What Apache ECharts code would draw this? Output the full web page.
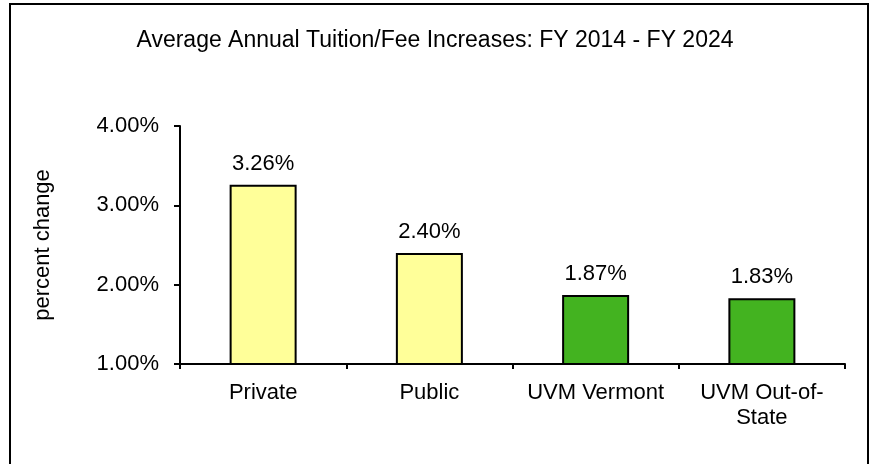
<!DOCTYPE html>
<html>
<head>
<meta charset="utf-8">
<script src="https://cdn.jsdelivr.net/npm/echarts@6/dist/echarts.min.js"></script>
<style>
  html, body { margin: 0; padding: 0; background: #fff; }
  #main { width: 870px; height: 464px; }
</style>
</head>
<body>
<div id="main"></div>
<script>
var categories = ['Private', 'Public', 'UVM Vermont', 'UVM Out-of-\nState'];
var increases = [3.26, 2.40, 1.87, 1.83];
var barColors = ['#FFFF99', '#FFFF99', '#43B320', '#43B320'];
var yTicks = [1, 2, 3, 4];

var chart = echarts.init(document.getElementById('main'));

var font = 'Liberation Sans, Arial, sans-serif';

var option = {
    animation: false,
    backgroundColor: '#fff',
    textStyle: { fontFamily: font },
    title: {
        text: 'Average Annual Tuition/Fee Increases: FY 2014 - FY 2024',
        left: 430,
        textAlign: 'center',
        top: 24,
        textStyle: { fontFamily: font, fontSize: 23, fontWeight: 'normal', color: '#000' }
    },
    graphic: [{
        type: 'rect',
        shape: { x: 10, y: 4, width: 858, height: 480 },
        style: { fill: 'none', stroke: '#000', lineWidth: 2 },
        silent: true
    }],
    grid: { left: 180, right: 25, top: 126, bottom: 100 },
    xAxis: {
        type: 'category',
        data: categories,
        axisLine: { lineStyle: { color: '#000', width: 2 } },
        axisTick: { show: true, length: 5, lineStyle: { color: '#000', width: 2 } },
        axisLabel: { color: '#000', fontSize: 22, fontFamily: font, margin: 16, lineHeight: 25, interval: 0 }
    },
    yAxis: {
        type: 'value',
        min: yTicks[0],
        max: yTicks[yTicks.length - 1],
        interval: 1,
        name: 'percent change',
        nameLocation: 'middle',
        nameRotate: 90,
        nameGap: 126,
        nameTextStyle: { color: '#000', fontSize: 22, fontFamily: font },
        axisLine: { show: true, lineStyle: { color: '#000', width: 2 } },
        axisTick: { show: true, length: 6, lineStyle: { color: '#000', width: 2 } },
        axisLabel: {
            color: '#000', fontSize: 22, fontFamily: font, margin: 21,
            formatter: function (v) { return v.toFixed(2) + '%'; }
        },
        splitLine: { show: false }
    },
    series: [{
        type: 'bar',
        barWidth: 67,
        data: increases.map(function (v, i) {
            return { value: v, itemStyle: { color: barColors[i] } };
        }),
        itemStyle: { borderColor: '#000', borderWidth: 2 },
        label: {
            show: true,
            position: 'top',
            distance: 10,
            color: '#000',
            fontSize: 22,
            fontFamily: font,
            formatter: function (p) { return p.value.toFixed(2) + '%'; }
        }
    }]
};

chart.setOption(option);
</script>
</body>
</html>
